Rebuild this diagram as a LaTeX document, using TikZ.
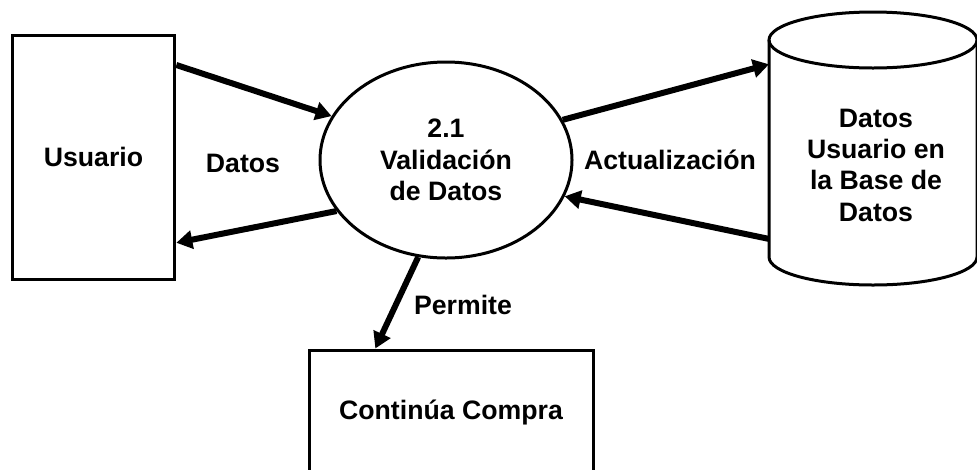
\documentclass[tikz,border=0pt]{standalone}
\usepackage{fontspec}
\setmainfont{Liberation Sans}
\usetikzlibrary{shapes.geometric,arrows.meta}

\tikzset{
  txt/.style={font=\bfseries\fontsize{20}{23.5}\selectfont, align=center, inner sep=0pt},
  box/.style={txt, draw, line width=2.25pt},
  flow/.style={line width=4.5pt, -{Triangle[length=12pt,width=13.5pt]}},
}

\begin{document}
\begin{tikzpicture}[x=0.75pt,y=0.75pt]
\fill[white] (0,0) rectangle (977,-469);
\path[use as bounding box] (0,0) rectangle (977,-469);

%Shape: Rectangle
\node[box, minimum width=122pt, minimum height=183pt] (usuario) at (93.5,-157) {Usuario};
%Shape: Ellipse
\node[box, ellipse, minimum width=189pt, minimum height=147pt] (validacion) at (446,-160) {2.1\\Validación\\de Datos};
%Shape: Rectangle
\node[box, minimum width=213pt, minimum height=93pt] (compra) at (451,-412) {Continúa Compra};

%Shape: Can
\node[outer sep=0pt, inner sep=0pt, minimum width=156pt, minimum height=162.75pt] (db) at (873,-148.5) {};
\draw[line width=2.25pt] (db.north west) -- (db.south west) arc[start angle=180, end angle=360, x radius=78pt, y radius=21pt] -- (db.north east);
\draw[line width=2.25pt] (db.north) ellipse [x radius=78pt, y radius=21pt];
\node[txt] (dbtext) at (876,-165) {Datos\\Usuario en\\la Base de\\Datos};

%Straight Lines
\draw[flow] (usuario.48) -- (validacion.159);
\draw[flow] (validacion.205) -- (usuario.-46);
\draw[flow] (validacion.19) -- (db.141);
\draw[flow] (db.221) -- (validacion.-17);
\draw[flow] (validacion.-106) -- (compra.140);

\node[txt] (datos) at (243,-163) {Datos};
\node[txt] (actualizacion) at (670,-160) {Actualización};
\node[txt] (permite) at (463,-305) {Permite};

\end{tikzpicture}
\end{document}
